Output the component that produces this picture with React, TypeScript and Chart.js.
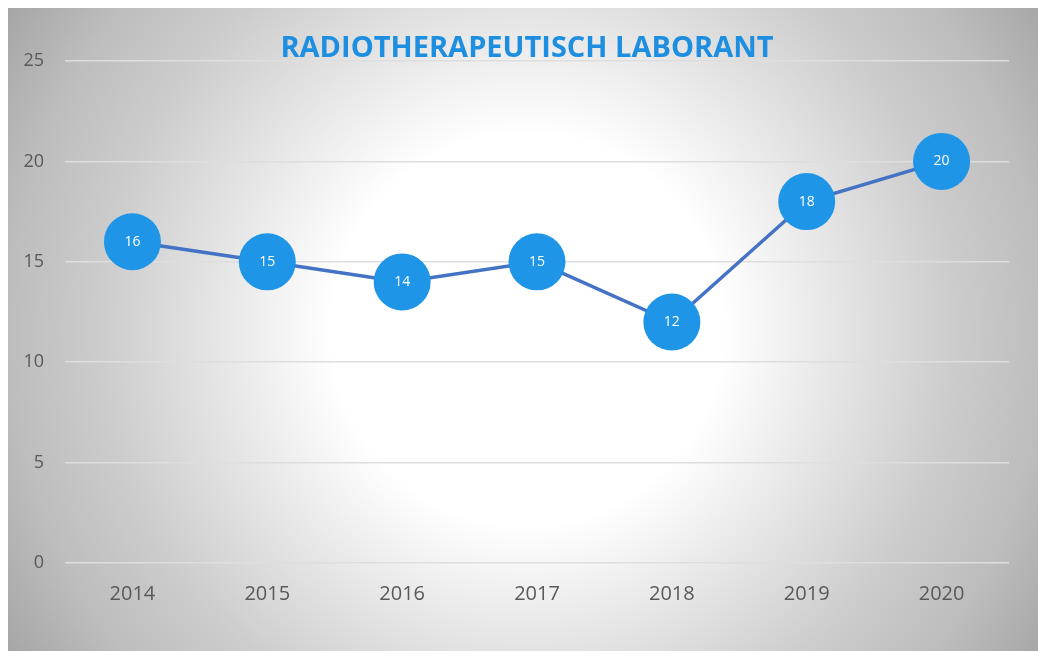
import React, { useEffect, useRef } from "react";
import { Chart, registerables } from "chart.js";

Chart.register(...registerables);

const categories = ["2014", "2015", "2016", "2017", "2018", "2019", "2020"];
const values = [16, 15, 14, 15, 12, 18, 20];
const yTicks = [0, 5, 10, 15, 20, 25];
const titleText = "RADIOTHERAPEUTISCH LABORANT";

const labelPlugin = {
  id: "pointLabels",
  afterDatasetsDraw(chart: any) {
    const ctx = chart.ctx;
    const meta = chart.getDatasetMeta(0);
    ctx.save();
    ctx.fillStyle = "#ffffff";
    ctx.font = "14px 'Open Sans'";
    ctx.textAlign = "center";
    ctx.textBaseline = "middle";
    meta.data.forEach((el: any, i: number) => {
      ctx.fillText(String(values[i]), el.x, el.y);
    });
    ctx.restore();
  },
};

const titlePlugin = {
  id: "centerTitle",
  afterDraw(chart: any) {
    const ctx = chart.ctx;
    ctx.save();
    ctx.fillStyle = "#1e8fe0";
    ctx.font = "bold 29px 'Open Sans'";
    ctx.textAlign = "center";
    ctx.textBaseline = "middle";
    ctx.fillText(titleText, chart.width / 2 + 4, 41);
    ctx.restore();
  },
};

export default function App() {
  const ref = useRef<HTMLCanvasElement>(null);
  useEffect(() => {
    if (!ref.current) return;
    const chart = new Chart(ref.current, {
      type: "line",
      data: {
        labels: categories,
        datasets: [
          {
            data: values,
            borderColor: "#4472c4",
            borderWidth: 3.5,
            pointRadius: 28.5,
            pointHoverRadius: 28.5,
            pointBackgroundColor: "#1e95e6",
            pointBorderColor: "#1e95e6",
            pointBorderWidth: 0,
            tension: 0,
            clip: false as any,
          },
        ],
      },
      options: {
        responsive: false,
        animation: false,
        layout: { padding: { left: 0, right: 29, top: 53, bottom: 26 } },
        plugins: {
          legend: { display: false },
          tooltip: { enabled: false },
          title: { display: false },
        },
        scales: {
          x: {
            offset: true,
            grid: { display: false, drawTicks: false },
            border: { display: false },
            ticks: {
              color: "#595959",
              font: { family: "'Open Sans'", size: 20 },
              padding: 19,
            },
          },
          y: {
            min: 0,
            max: 25,
            afterFit(scale: any) {
              scale.width = 57;
            },
            afterBuildTicks(scale: any) {
              scale.ticks = yTicks.map((v) => ({ value: v }));
            },
            grid: { color: "#dedede", lineWidth: 1.5, drawTicks: false },
            border: { display: false },
            ticks: {
              color: "#595959",
              font: { family: "'Open Sans'", size: 18 },
              padding: 21,
            },
          },
        },
      },
      plugins: [labelPlugin, titlePlugin],
    });
    return () => chart.destroy();
  }, []);

  return (
    <div
      style={{
        position: "fixed",
        left: 8,
        top: 8,
        width: 1030,
        height: 643,
        background:
          "radial-gradient(circle farthest-corner at 50.4% 50%, #ffffff 0%, #ffffff 32%, #e4e4e4 52%, #cccccc 70%, #bdbdbd 85%, #a6a6a6 100%)",
      }}
    >
      <canvas ref={ref} width={1030} height={643} style={{ display: "block" }} />
    </div>
  );
}
